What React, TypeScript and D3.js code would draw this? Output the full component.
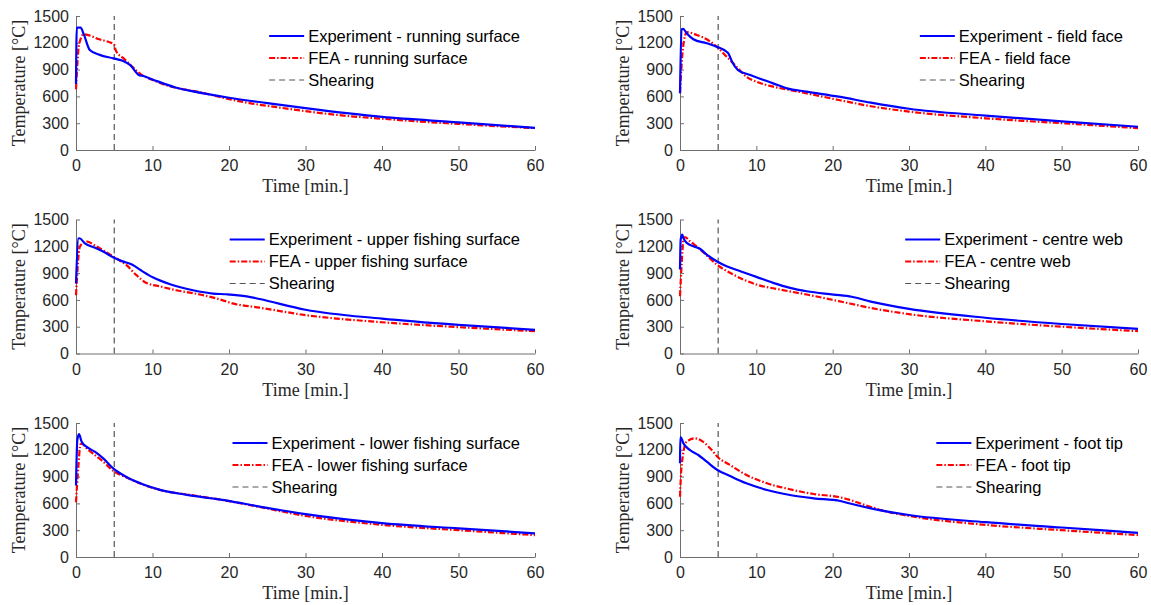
import React, { useEffect, useRef } from "react";
import * as d3 from "d3";

type Pt = [number, number];

// time [min] / temperature [°C] pairs
const runningExp: Pt[] = [[0, 740], [0.1, 1370], [0.6, 1370], [1, 1300], [1.8, 1120], [3.1, 1065], [4.9, 1026], [6.2, 995], [7.1, 950], [8.2, 840], [8.8, 828], [10, 790], [13, 700], [15, 662], [20, 585], [25, 525], [30, 468], [40, 370], [50, 310], [60, 248]];
const runningFea: Pt[] = [[0, 680], [0.4, 1180], [1, 1295], [3, 1240], [5, 1180], [5.2, 1115], [6.3, 1020], [7.5, 920], [8.8, 830], [10, 785], [12, 720], [14, 680], [16, 650], [18, 610], [20, 570], [23, 520], [27, 470], [30, 435], [35, 385], [40, 350], [45, 318], [50, 292], [55, 267], [60, 245]];

const fieldExp: Pt[] = [[0, 634], [0.2, 1350], [0.4, 1355], [0.9, 1305], [1.75, 1240], [3.5, 1195], [4.8, 1157], [6.1, 1100], [6.35, 1080], [6.8, 990], [7.6, 895], [9.2, 840], [12.2, 746], [14, 690], [16.6, 653], [20.8, 597], [25, 530], [30, 462], [40, 385], [50, 320], [60, 260]];
const fieldFea: Pt[] = [[0, 640], [0.4, 1150], [0.9, 1320], [2.2, 1287], [3.5, 1239], [4.8, 1157], [6.1, 1045], [7.4, 933], [8.7, 821], [10, 765], [12.2, 709], [14.4, 672], [16.6, 634], [20.8, 560], [25, 490], [30, 430], [40, 355], [50, 300], [60, 245]];

const upperExp: Pt[] = [[0, 783], [0.3, 1288], [0.45, 1290], [1.17, 1232], [2.5, 1183], [3.6, 1138], [4.9, 1075], [6, 1034], [7.3, 997], [8.8, 914], [10.1, 850], [12.3, 775], [15.3, 708], [17.9, 671], [19.7, 663], [22.3, 640], [24, 610], [30, 490], [40, 390], [50, 320], [60, 265]];
const upperFea: Pt[] = [[0, 652], [0.5, 1195], [1.05, 1244], [1.3, 1255], [2.7, 1197], [4, 1131], [5.3, 1064], [6.6, 989], [7.9, 877], [9.2, 790], [10.9, 753], [13.1, 708], [16.2, 660], [18.4, 615], [20.6, 558], [24, 513], [30, 430], [40, 350], [50, 295], [60, 250]];

const centreExp: Pt[] = [[0, 940], [0.09, 1276], [0.3, 1330], [0.44, 1295], [0.87, 1239], [1.75, 1201], [2.6, 1172], [3.5, 1108], [4.8, 1033], [6.1, 977], [7.9, 921], [10, 858], [12.2, 791], [14.4, 735], [16.6, 697], [20.1, 660], [22.5, 635], [25, 580], [30, 500], [40, 400], [50, 330], [60, 275]];
const centreFea: Pt[] = [[0, 641], [0.2, 977], [0.5, 1300], [0.7, 1300], [1.3, 1257], [2.4, 1183], [3.5, 1097], [4.8, 996], [6.55, 903], [8.3, 828], [10, 772], [13.1, 716], [16.6, 660], [20.8, 586], [25, 510], [30, 440], [40, 360], [50, 300], [60, 250]];

const lowerExp: Pt[] = [[0, 800], [0.17, 1308], [0.39, 1375], [0.74, 1289], [1.4, 1233], [2.5, 1176], [3.6, 1101], [4.9, 989], [6.6, 895], [8.8, 812], [11, 752], [14.5, 696], [17.6, 658], [19.7, 632], [24, 564], [30, 480], [40, 380], [50, 320], [60, 265]];
const lowerFea: Pt[] = [[0, 612], [0.3, 1007], [0.6, 1265], [0.8, 1265], [1.4, 1215], [2.5, 1139], [3.6, 1064], [4.9, 962], [6.6, 890], [8.8, 810], [11, 750], [14.5, 700], [17.6, 660], [20, 625], [24, 560], [30, 460], [40, 360], [50, 300], [60, 245]];

const footExp: Pt[] = [[0, 1049], [0.03, 1340], [0.1, 1340], [0.44, 1272], [1.3, 1198], [2.4, 1142], [3.5, 1067], [4.9, 974], [6.55, 907], [8.7, 825], [11.4, 750], [14.4, 694], [17.5, 657], [21, 627], [22, 605], [25, 545], [30, 470], [40, 390], [50, 330], [60, 270]];
const footFea: Pt[] = [[0, 675], [0.2, 1011], [0.87, 1291], [1.97, 1328], [3, 1291], [4.15, 1198], [4.9, 1123], [6.55, 1030], [8.7, 918], [11.4, 825], [14.4, 758], [17.5, 705], [21, 668], [22, 645], [25, 560], [27, 510], [30, 460], [40, 360], [50, 300], [60, 245]];

const locations = ["running surface", "field face", "upper fishing surface", "centre web", "lower fishing surface", "foot tip"];
const expSeries = [runningExp, fieldExp, upperExp, centreExp, lowerExp, footExp];
const feaSeries = [runningFea, fieldFea, upperFea, centreFea, lowerFea, footFea];

const xTicks = [0, 10, 20, 30, 40, 50, 60];
const yTicks = [0, 300, 600, 900, 1200, 1500];
const shearTime = 5;

const W = 1151;
const H = 605;
const colLeft = [76, 680];
const colRight = [535, 1138];
const rowTop = [16, 219.5, 423];
const rowBottom = [150, 353.5, 557];

const sans = "'Liberation Sans', Arial, sans-serif";
const serif = "'Liberation Serif', 'Times New Roman', serif";
const ink = "#262626";

const App = () => {
  const svgRef = useRef<SVGSVGElement>(null);

  useEffect(() => {
    const svg = d3.select(svgRef.current);
    svg.selectAll("*").remove();

    locations.forEach((loc, i) => {
      const col = i % 2;
      const row = Math.floor(i / 2);
      const x = d3.scaleLinear().domain([0, 60]).range([colLeft[col], colRight[col]]);
      const y = d3.scaleLinear().domain([0, 1500]).range([rowBottom[row], rowTop[row]]);
      const g = svg.append("g");

      // axes (box off, ticks inward)
      const xAxis = d3.axisBottom(x).tickValues(xTicks).tickFormat(d3.format("d"))
        .tickSizeInner(-4).tickSizeOuter(0).tickPadding(10);
      const gx = g.append("g").attr("transform", `translate(0,${rowBottom[row]})`).call(xAxis);
      const yAxis = d3.axisLeft(y).tickValues(yTicks).tickFormat(d3.format("d"))
        .tickSizeInner(-4).tickSizeOuter(0).tickPadding(7);
      const gy = g.append("g").attr("transform", `translate(${colLeft[col]},0)`).call(yAxis);
      [gx, gy].forEach((a) => {
        a.select(".domain").attr("stroke", "#6e6e6e").attr("stroke-width", 1);
        a.selectAll(".tick line").attr("stroke", "#6e6e6e");
        a.selectAll(".tick text").attr("font-family", sans).attr("font-size", 16).attr("fill", ink);
      });

      // axis titles
      g.append("text")
        .attr("x", (colLeft[col] + colRight[col]) / 2)
        .attr("y", rowBottom[row] + 42)
        .attr("text-anchor", "middle")
        .attr("font-family", serif)
        .attr("font-size", 18)
        .attr("fill", ink)
        .text("Time [min.]");
      g.append("text")
        .attr("transform", `translate(${colLeft[col] - 51},${(rowTop[row] + rowBottom[row]) / 2}) rotate(-90)`)
        .attr("text-anchor", "middle")
        .attr("font-family", serif)
        .attr("font-size", 18)
        .attr("fill", ink)
        .text("Temperature [°C]");

      // shearing marker
      g.append("line")
        .attr("x1", x(shearTime)).attr("x2", x(shearTime))
        .attr("y1", y(0)).attr("y2", y(1500))
        .attr("stroke", "#555").attr("stroke-width", 1.2).attr("stroke-dasharray", "6,4");

      const line = d3.line<Pt>().x((d) => x(d[0])).y((d) => y(d[1])).curve(d3.curveMonotoneX);
      g.append("path").attr("d", line(feaSeries[i]))
        .attr("fill", "none").attr("stroke", "#ff0000").attr("stroke-width", 2.2)
        .attr("stroke-dasharray", "6,2,1.5,2");
      g.append("path").attr("d", line(expSeries[i]))
        .attr("fill", "none").attr("stroke", "#0000ff").attr("stroke-width", 2.2);

      // legend, right aligned inside the axes
      const labels = [`Experiment - ${loc}`, `FEA - ${loc}`, "Shearing"];
      const styles = [
        { c: "#0000ff", w: 2, d: null },
        { c: "#ff0000", w: 2, d: "6,2,1.5,2" },
        { c: "#555", w: 1.2, d: "6,4" },
      ];
      const lg = g.append("g");
      const texts = labels.map((t, k) =>
        lg.append("text")
          .attr("y", rowTop[row] + 20 + k * 22 + 5.5)
          .attr("font-family", sans).attr("font-size", 16.5).attr("fill", "#000")
          .text(t)
      );
      const widths = texts.map((t) => (t.node() as SVGTextElement).getComputedTextLength());
      const textX = colRight[col] - 15 - d3.max(widths)!;
      texts.forEach((t) => t.attr("x", textX));
      styles.forEach((s, k) => {
        const ly = rowTop[row] + 20 + k * 22;
        const l = lg.append("line")
          .attr("x1", textX - 39).attr("x2", textX - 4)
          .attr("y1", ly).attr("y2", ly)
          .attr("stroke", s.c).attr("stroke-width", s.w);
        if (s.d) l.attr("stroke-dasharray", s.d);
      });
    });
  }, []);

  return (
    <svg
      ref={svgRef}
      width={W}
      height={H}
      style={{ position: "absolute", left: 0, top: 0, background: "#fff" }}
    />
  );
};

export default App;
